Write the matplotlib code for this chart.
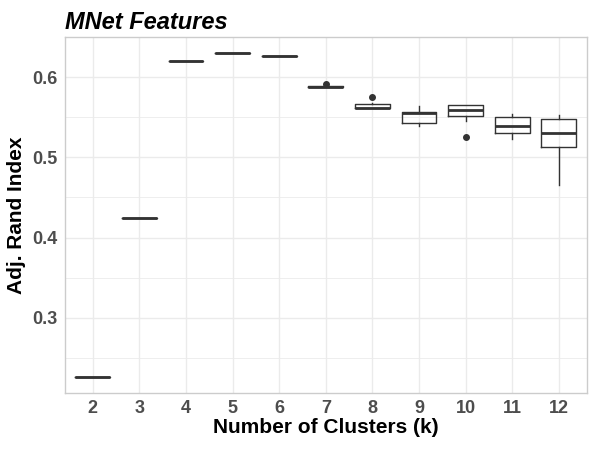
import matplotlib
matplotlib.use("Agg")
import matplotlib.pyplot as plt
from matplotlib.ticker import MultipleLocator

plt.rcParams["font.family"] = ["Liberation Sans", "DejaVu Sans"]

k_labels = ["2", "3", "4", "5", "6", "7", "8", "9", "10", "11", "12"]
whisker_lo = [0.2265, 0.4249, 0.620, 0.630, 0.6263, 0.587, 0.561, 0.5393, 0.5456, 0.5232, 0.4657]
q1 = [0.2265, 0.4249, 0.620, 0.630, 0.6263, 0.587, 0.561, 0.5425, 0.5511, 0.5299, 0.5125]
median = [0.2265, 0.4249, 0.620, 0.630, 0.6263, 0.588, 0.5618, 0.5549, 0.5589, 0.5393, 0.5306]
q3 = [0.2265, 0.4249, 0.620, 0.630, 0.6263, 0.589, 0.566, 0.556, 0.5648, 0.5498, 0.5473]
whisker_hi = [0.2265, 0.4249, 0.620, 0.630, 0.6263, 0.589, 0.568, 0.5639, 0.5648, 0.5539, 0.5527]
outliers = [[], [], [], [], [], [0.591], [0.5747], [], [0.5249], [], []]

stats = []
for i, lab in enumerate(k_labels):
    stats.append({
        "label": lab,
        "whislo": whisker_lo[i],
        "q1": q1[i],
        "med": median[i],
        "q3": q3[i],
        "whishi": whisker_hi[i],
        "fliers": outliers[i],
    })

fig = plt.figure(figsize=(6, 4.5), dpi=100)
ax = fig.add_axes([0.108, 0.127, 0.870, 0.791])

line_col = "#333333"
ax.bxp(
    stats,
    positions=range(1, len(k_labels) + 1),
    widths=0.75,
    showcaps=False,
    boxprops=dict(color=line_col, linewidth=1.0),
    whiskerprops=dict(color=line_col, linewidth=1.0),
    medianprops=dict(color=line_col, linewidth=2.0),
    flierprops=dict(marker="o", markerfacecolor=line_col, markeredgecolor=line_col,
                    markersize=4),
    zorder=3,
)

ax.set_xlim(0.4, len(k_labels) + 0.6)
ax.set_ylim(0.2066, 0.65)
ax.yaxis.set_major_locator(MultipleLocator(0.1))
ax.yaxis.set_minor_locator(MultipleLocator(0.05))
ax.set_xticks(range(1, len(k_labels) + 1))
ax.set_xticklabels(k_labels)

ax.grid(which="major", color="#EBEBEB", linewidth=1.0, zorder=0)
ax.grid(which="minor", axis="y", color="#EBEBEB", linewidth=0.6, zorder=0)
ax.set_axisbelow(True)
ax.tick_params(which="both", length=0, pad=5)
ax.tick_params(labelsize=13, labelcolor="#4D4D4D")
for lab in ax.get_xticklabels() + ax.get_yticklabels():
    lab.set_fontweight("bold")
for sp in ax.spines.values():
    sp.set_color("#CCCCCC")
    sp.set_linewidth(1.0)

ax.set_xlabel("Number of Clusters (k)", fontsize=15, fontweight="bold", labelpad=1)
ax.set_ylabel("Adj. Rand Index", fontsize=15, fontweight="bold", labelpad=5)
ax.set_title("MNet Features", fontsize=17, fontweight="bold", fontstyle="italic",
             loc="left", pad=6)

fig.savefig("out.png", dpi=100)
